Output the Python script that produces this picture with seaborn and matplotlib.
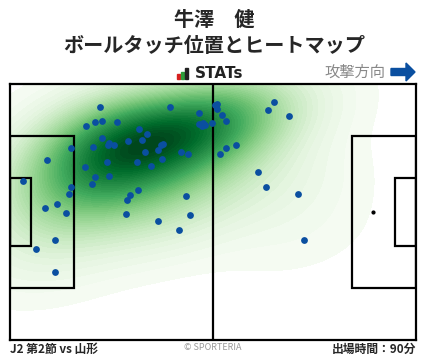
import matplotlib
matplotlib.use("Agg")
import matplotlib.pyplot as plt
import seaborn as sns
from matplotlib.patches import Rectangle, FancyArrow

# ----------------------------
# Data (pitch metres, 105 x 68, y measured from the top touchline)
# ----------------------------
touch_x = [23.3, 41.4, 48.9, 53.0, 53.5, 53.5, 54.8, 55.9, 52.2, 49.9,
           50.4, 49.7, 48.9, 19.7, 22.0, 23.8, 27.7, 33.4, 35.4, 34.1,
           30.5, 23.8, 25.6, 25.3, 26.9, 21.5, 15.8, 39.0, 39.6, 38.3,
           34.9, 44.2, 46.0, 39.3, 32.8, 25.1, 9.6, 19.4, 36.5, 22.0,
           25.6, 21.2, 3.4, 15.8, 15.3, 33.1, 31.0, 30.3, 45.5, 9.1,
           12.2, 14.5, 30.0, 46.5, 38.3, 43.7, 11.6, 6.7, 11.6, 68.3,
           66.7, 72.2, 58.4, 55.9, 54.3, 64.1, 66.2, 74.5, 76.0]
touch_y = [6.1, 6.1, 7.7, 5.6, 5.3, 6.6, 8.2, 9.8, 10.4, 10.4,
           10.9, 11.2, 10.6, 11.2, 10.1, 9.8, 10.1, 12.0, 13.3, 14.9,
           15.1, 14.3, 15.7, 16.2, 16.2, 16.7, 17.0, 16.2, 15.9, 17.5,
           18.1, 18.1, 18.6, 19.9, 20.7, 20.7, 20.2, 22.0, 21.8, 24.7,
           24.4, 26.6, 25.8, 27.4, 29.2, 28.2, 29.5, 30.8, 29.7, 32.9,
           31.9, 34.3, 34.5, 34.8, 36.4, 38.8, 41.4, 43.8, 49.9, 4.8,
           6.9, 8.5, 16.2, 17.0, 18.6, 23.4, 27.4, 29.2, 41.4]

player = "牛澤　健"
subtitle = "ボールタッチ位置とヒートマップ"
match_label = "J2 第2節 vs 山形"
minutes_label = "出場時間：90分"

sns.set_style("white")
plt.rcParams["font.family"] = ["Noto Sans CJK JP", "DejaVu Sans"]

fig = plt.figure(figsize=(4.28, 3.59), dpi=100)
ax = fig.add_axes([10 / 428, 19 / 359, 406 / 428, 256 / 359])

# heatmap
sns.kdeplot(x=touch_x, y=touch_y, fill=True, cmap="Greens", levels=50,
            thresh=0.012, bw_adjust=1.6, clip=((0, 105), (0, 68)), ax=ax,
            zorder=1)

# touches
sns.scatterplot(x=touch_x, y=touch_y, color="#0a4fa0", s=24, linewidth=0,
                ax=ax, zorder=4)

# pitch markings
lc = "black"
lw = 1.6
ax.plot([52.5, 52.5], [0, 68], color=lc, lw=lw, zorder=3)
for x0, w in [(0, 16.5), (105 - 16.5, 16.5)]:
    ax.add_patch(Rectangle((x0, 34 - 20.16), w, 40.32, fill=False,
                           ec=lc, lw=lw, zorder=3))
for x0, w in [(0, 5.5), (105 - 5.5, 5.5)]:
    ax.add_patch(Rectangle((x0, 34 - 9.16), w, 18.32, fill=False,
                           ec=lc, lw=lw, zorder=3))
ax.scatter([105 - 11], [34], s=4, color=lc, zorder=3)

ax.set_xlim(0, 105)
ax.set_ylim(68, 0)
ax.set_xticks([])
ax.set_yticks([])
ax.set_xlabel("")
ax.set_ylabel("")
for s in ax.spines.values():
    s.set_visible(True)
    s.set_color(lc)
    s.set_linewidth(lw)

# header
fig.text(0.5, 1 - 20 / 359, player, ha="center", va="center",
         fontsize=14.5, fontweight="bold")
fig.text(0.5, 1 - 46 / 359, subtitle, ha="center", va="center",
         fontsize=14.5, fontweight="bold")

# STATs logo
for i, (c, h) in enumerate([("#d7201f", 5), ("#2e9b3a", 7), ("#222222", 11)]):
    fig.patches.append(Rectangle(((177 + i * 4) / 428, (359 - 79) / 359),
                                 3 / 428, h / 359, color=c,
                                 transform=fig.transFigure, figure=fig))
fig.text(195 / 428, 1 - 73 / 359, "STATs", ha="left", va="center",
         fontsize=11, fontweight="bold", color="#222222",
         family=["DejaVu Sans"])

# attack direction
fig.text(385 / 428, 1 - 72 / 359, "攻撃方向", ha="right", va="center",
         fontsize=11, color="#888888")
fig.patches.append(FancyArrow(391 / 428, 1 - 72 / 359, 15 / 428, 0,
                              width=7 / 359, head_width=18 / 359,
                              head_length=9 / 428, length_includes_head=False,
                              color="#0a4fa0", transform=fig.transFigure,
                              figure=fig))

# footer
fig.text(10 / 428, 1 - 349 / 359, match_label, ha="left", va="center",
         fontsize=8.5, fontweight="bold")
fig.text(213 / 428, 1 - 348 / 359, "© SPORTERIA", ha="center", va="center",
         fontsize=6.5, color="#999999")
fig.text(416 / 428, 1 - 349 / 359, minutes_label, ha="right", va="center",
         fontsize=8.5, fontweight="bold")

fig.savefig("out.png", dpi=100)
